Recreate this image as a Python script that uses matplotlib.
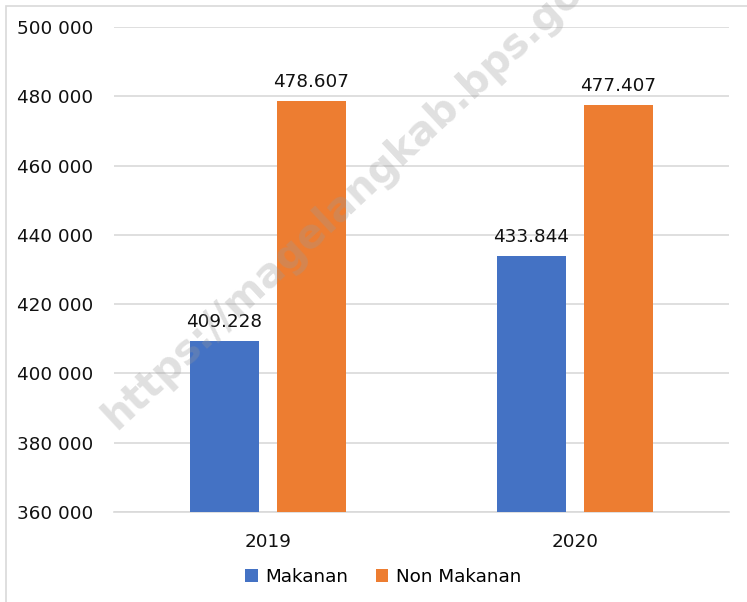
import numpy as np
import matplotlib
matplotlib.use('Agg')
import matplotlib.pyplot as plt
from matplotlib.ticker import FuncFormatter, MultipleLocator
from matplotlib.patches import Rectangle

years = ['2019', '2020']
series = ['Makanan', 'Non Makanan']
makanan = [409228, 433844]
non_makanan = [478607, 477407]
colors = ['#4472C4', '#ED7D31']

plt.rcParams['font.family'] = ['DejaVu Sans']
FS = 13.2

W, H = 747, 602
fig = plt.figure(figsize=(W / 100, H / 100), dpi=100)
ax = fig.add_axes([114 / W, 1 - 512 / H, 614.5 / W, 485 / H])

x = np.arange(len(years))
bw = 0.225
off = 0.1417
for vals, name, c, d in [(makanan, series[0], colors[0], -off),
                         (non_makanan, series[1], colors[1], off)]:
    bars = ax.bar(x + d, vals, bw, color=c, label=name, zorder=3)
    for b, v in zip(bars, vals):
        ax.text(b.get_x() + b.get_width() / 2, v + 3000,
                f'{v / 1000:.3f}', ha='center', va='bottom',
                fontsize=FS, color='#111111', zorder=4)

ax.set_xlim(-0.5, 1.5)
ax.set_ylim(360000, 500000)
ax.yaxis.set_major_locator(MultipleLocator(20000))
ax.yaxis.set_major_formatter(FuncFormatter(lambda v, p: f'{int(v):,}'.replace(',', ' ')))
ax.set_xticks(x)
ax.set_xticklabels(years)
ax.tick_params(axis='both', length=0, labelsize=FS, colors='#111111')
ax.tick_params(axis='x', pad=15)
ax.tick_params(axis='y', pad=15)
ax.grid(axis='y', color='#D9D9D9', linewidth=1.2, zorder=0)
for s in ['top', 'right', 'left']:
    ax.spines[s].set_visible(False)
ax.spines['bottom'].set_color('#D9D9D9')
ax.spines['bottom'].set_linewidth(1.2)

fig.legend(loc='center', bbox_to_anchor=(383 / W, 1 - 577 / H), ncol=2,
           frameon=False, fontsize=FS, handlelength=0.7, handleheight=0.7,
           handletextpad=0.4, columnspacing=1.5)

# chart border (only left/top visible in the crop)
fig.patches.append(Rectangle((6 / W, -0.1), 1.2, 1.1 - 6 / H, transform=fig.transFigure,
                             fill=False, edgecolor='#D9D9D9', linewidth=1.2))

# watermark
fig.text(116 / W, 1 - 430 / H, 'https://magelangkab.bps.go.id', rotation=43,
         rotation_mode='anchor', ha='left', va='baseline', fontsize=29,
         fontweight='bold', color='#9a9a9a', alpha=0.3, zorder=5)

fig.savefig('out.png', dpi=100, facecolor='white')
